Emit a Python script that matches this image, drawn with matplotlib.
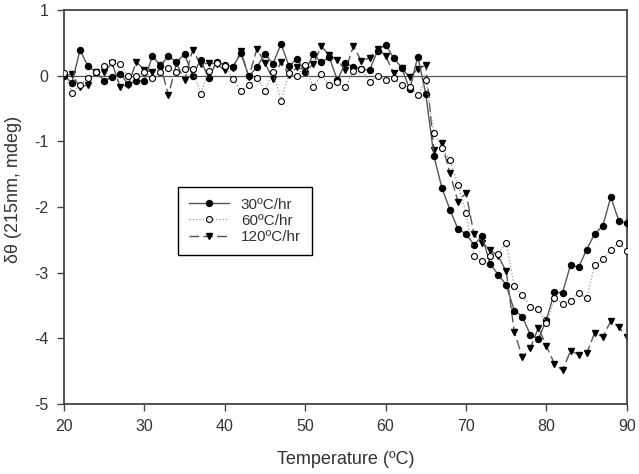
import matplotlib
matplotlib.use("Agg")
import matplotlib.pyplot as plt
import numpy as np

plt.rcParams['font.family'] = ['Liberation Sans', 'DejaVu Sans']
plt.rcParams['axes.unicode_minus'] = False

# temperature in degrees C, one reading per degree
temp = np.arange(20, 91)

# 30 C/hr (filled circles)
rate30 = [0.00, -0.11, 0.39, 0.14, 0.06, -0.08, -0.02, 0.03, -0.13, -0.08,
          -0.08, 0.30, 0.15, 0.30, 0.20, 0.33, 0.00, 0.24, -0.04, 0.21,
          0.16, 0.13, 0.34, -0.01, 0.13, 0.33, 0.18, 0.48, 0.14, 0.26,
          0.05, 0.33, 0.20, 0.28, -0.07, 0.19, 0.13, 0.10, 0.08, 0.38,
          0.47, 0.27, 0.12, -0.21, 0.29, -0.28, -1.22, -1.71, -2.04, -2.34,
          -2.41, -2.58, -2.44, -2.87, -3.03, -3.19, -3.58, -3.67, -3.95, -4.01,
          -3.72, -3.30, -3.31, -2.88, -2.92, -2.65, -2.41, -2.29, -1.85, -2.21,
          -2.25]

# 60 C/hr (open circles)
rate60 = [0.04, -0.26, -0.15, -0.03, 0.05, 0.15, 0.20, 0.17, -0.01, -0.01,
          0.05, -0.03, 0.05, 0.11, 0.06, 0.10, 0.10, -0.28, 0.07, 0.19,
          0.15, -0.05, -0.23, -0.15, -0.03, -0.23, 0.06, -0.38, 0.04, -0.01,
          0.16, -0.18, 0.02, -0.15, -0.10, -0.18, 0.07, 0.10, -0.09, -0.01,
          -0.06, -0.04, -0.14, -0.18, -0.29, -0.06, -0.87, -1.10, -1.29, -1.66,
          -2.09, -2.75, -2.83, -2.75, -2.71, -2.55, -3.21, -3.34, -3.53, -3.56,
          -3.77, -3.39, -3.48, -3.43, -3.31, -3.39, -2.88, -2.79, -2.65, -2.55,
          -2.67]

# 120 C/hr (filled down triangles)
rate120 = [0.00, 0.02, -0.18, -0.14, 0.05, 0.05, 0.19, -0.18, -0.14, 0.21,
           0.09, 0.05, 0.16, -0.30, 0.19, -0.07, 0.39, 0.17, 0.19, 0.18,
           0.08, 0.11, 0.37, -0.02, 0.41, 0.19, -0.05, 0.21, 0.01, 0.13,
           0.08, 0.17, 0.45, 0.31, 0.24, 0.08, 0.45, 0.22, 0.27, 0.41,
           0.30, 0.04, 0.11, -0.02, 0.10, 0.16, -1.13, -1.03, -1.49, -1.92,
           -1.79, -2.42, -2.55, -2.66, -2.75, -2.98, -3.90, -4.29, -4.15, -3.84,
           -4.12, -4.39, -4.49, -4.19, -4.25, -4.23, -3.92, -3.98, -3.74, -3.83,
           -3.98]

labels = ["30ºC/hr", "60ºC/hr", "120ºC/hr"]

fig = plt.figure(figsize=(6.39, 4.74), dpi=100)
ax = fig.add_axes([0.100, 0.148, 0.881, 0.831])

ax.axhline(0, color="#555555", lw=0.9, zorder=1)

ax.plot(temp, rate30, color="#555555", lw=1.0, ls="-",
        marker="o", ms=4.3, mfc="black", mec="black", label=labels[0], zorder=3)
ax.plot(temp, rate60, color="#999999", lw=0.9, ls=":",
        marker="o", ms=4.3, mfc="white", mec="black", mew=0.8, label=labels[1], zorder=4)
ax.plot(temp, rate120, color="#555555", lw=1.0, ls=(0, (7, 3)),
        marker="v", ms=4.3, mfc="black", mec="black", label=labels[2], zorder=2)

ax.set_xlim(20, 90)
ax.set_ylim(-5, 1)
ax.set_xticks(range(20, 91, 10))
ax.set_yticks(range(-5, 2))

for s in ax.spines.values():
    s.set_color("#444444")
    s.set_linewidth(1.3)
ax.tick_params(direction="out", length=5, width=1.0, color="#444444",
               labelsize=11.5, labelcolor="#333333", pad=6)

ax.set_xlabel("Temperature (ºC)", fontsize=13, color="#333333", labelpad=12)
ax.set_ylabel("δθ (215nm, mdeg)", fontsize=13, color="#333333")
ax.yaxis.set_label_coords(-0.074, 0.545)

leg = ax.legend(loc="upper left", bbox_to_anchor=(0.203, 0.551), borderaxespad=0,
                fancybox=False, framealpha=1, edgecolor="black", fontsize=11,
                handlelength=2.6, borderpad=0.7, labelspacing=0.15, handletextpad=0.8)
leg.get_frame().set_linewidth(1.0)
for t in leg.get_texts():
    t.set_color("#333333")

fig.savefig("out.png", dpi=100)
